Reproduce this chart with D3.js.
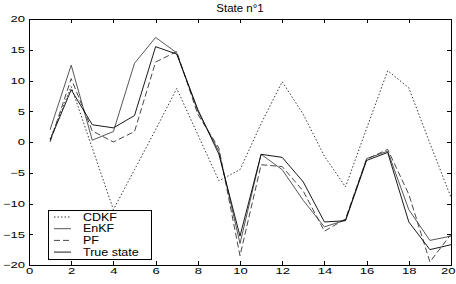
<!DOCTYPE html>
<html>
<head>
<meta charset="utf-8">
<script src="https://cdn.jsdelivr.net/npm/d3@7"></script>
<style>
body { margin: 0; background: #fff; }
svg { display: block; font-family: "Liberation Sans", Arial, sans-serif; }
.axis path { display: none; }
.axis line { stroke: #000; stroke-width: 1; shape-rendering: crispEdges; }
.axis text { fill: #000; font-size: 9px; transform-box: fill-box; }
.x-bot text { transform-origin: center; transform: scaleX(1.45); }
.x-bot .tick:last-of-type text { transform-origin: right center; }
.y-left text { transform-origin: right center; transform: scaleX(1.45); }
.series { fill: none; stroke-width: 0.9; }
</style>
</head>
<body>
<div id="chart"></div>
<script>
var steps = d3.range(1, 21);
var cdkf  = [0.5, 9, -1, -11, -4.5, 2, 8.7, 1.2, -6.3, -4.5, 3, 9.8, 4.5, -2.3, -7.3, 2.2, 11.6, 8.8, -0.2, -9];
var enkf  = [2, 12.5, 0.3, 1.7, 12.8, 17, 14.5, 5, -1.5, -16.5, -2, -4.5, -9.5, -13.8, -12.7, -2.7, -1.5, -11, -16, -15.3];
var pf    = [0, 10.3, 1.8, 0, 1.7, 13, 14.7, 4.5, -1, -18.5, -3.7, -4, -8, -14.5, -12.5, -2.8, -1.2, -8.5, -19.5, -15];
var truth = [0.3, 8.5, 2.8, 2.3, 4.3, 15.5, 14.3, 5.3, -2, -15.3, -2, -2.5, -6.5, -13, -12.8, -3, -1.7, -13, -17.5, -16.7];
var xTicks = [0, 2, 4, 6, 8, 10, 12, 14, 16, 18, 20];
var yTicks = [-20, -15, -10, -5, 0, 5, 10, 15, 20];

var margin = {top: 19, right: 5, bottom: 19, left: 29},
    width = 456 - margin.left - margin.right,
    height = 284 - margin.top - margin.bottom;

var svg = d3.select("#chart").append("svg")
    .attr("width", 456)
    .attr("height", 284);

var g = svg.append("g")
    .attr("transform", "translate(" + margin.left + "," + margin.top + ")");

var x = d3.scaleLinear().domain([0, 20]).range([0, width]);
var y = d3.scaleLinear().domain([-20, 20]).range([height, 0]);

// ticks point inward, matlab style
var xb = g.append("g").attr("class", "axis x-bot")
    .attr("transform", "translate(0," + height + ")")
    .call(d3.axisBottom(x).tickValues(xTicks).tickSizeInner(-4).tickSizeOuter(0).tickPadding(3));
// last label sits against the window edge
xb.select(".tick:last-of-type text")
    .attr("text-anchor", "end")
    .attr("x", 4);

g.append("g").attr("class", "axis")
    .call(d3.axisTop(x).tickValues(xTicks).tickSizeInner(-4).tickSizeOuter(0).tickFormat(""));
g.append("g").attr("class", "axis y-left")
    .call(d3.axisLeft(y).tickValues(yTicks).tickSizeInner(-4).tickSizeOuter(0).tickPadding(4));
g.append("g").attr("class", "axis")
    .attr("transform", "translate(" + width + ",0)")
    .call(d3.axisRight(y).tickValues(yTicks).tickSizeInner(-4).tickSizeOuter(0).tickFormat(""));

g.append("rect")
    .attr("width", width)
    .attr("height", height)
    .attr("fill", "none")
    .attr("stroke", "#000")
    .attr("shape-rendering", "crispEdges");

var series = [
  {name: "CDKF", values: cdkf, dash: "1.5,2", color: "#222"},
  {name: "EnKF", values: enkf, dash: null, color: "#444"},
  {name: "PF", values: pf, dash: "6,3", color: "#333"},
  {name: "True state", values: truth, dash: null, color: "#000"}
];

var line = d3.line()
    .x(function(d, i){ return x(steps[i]); })
    .y(function(d){ return y(d); });

g.selectAll(".series")
    .data(series)
  .enter().append("path")
    .attr("class", "series")
    .attr("d", function(d){ return line(d.values); })
    .attr("stroke", function(d){ return d.color; })
    .attr("stroke-dasharray", function(d){ return d.dash; });

// title
svg.append("text")
    .attr("x", margin.left + width / 2)
    .attr("y", 12)
    .attr("text-anchor", "middle")
    .style("font-size", "10px")
    .style("transform-box", "fill-box")
    .style("transform-origin", "center")
    .style("transform", "scaleX(1.15)")
    .text("State n°1");

// legend
var leg = svg.append("g").attr("transform", "translate(48,210)");
leg.append("rect")
    .attr("width", 103)
    .attr("height", 49)
    .attr("fill", "#fff")
    .attr("stroke", "#000")
    .attr("shape-rendering", "crispEdges");

var item = leg.selectAll(".item")
    .data(series)
  .enter().append("g")
    .attr("class", "item")
    .attr("transform", function(d, i){ return "translate(0," + (7 + i * 11.7) + ")"; });

item.append("line")
    .attr("x1", 6).attr("x2", 23)
    .attr("stroke", function(d){ return d.color; })
    .attr("stroke-width", 0.9)
    .attr("stroke-dasharray", function(d){ return d.dash; });

item.append("text")
    .attr("x", 35)
    .attr("dy", "0.35em")
    .style("font-size", "10px")
    .style("transform-box", "fill-box")
    .style("transform-origin", "left center")
    .style("transform", "scaleX(1.25)")
    .text(function(d){ return d.name; });
</script>
</body>
</html>
